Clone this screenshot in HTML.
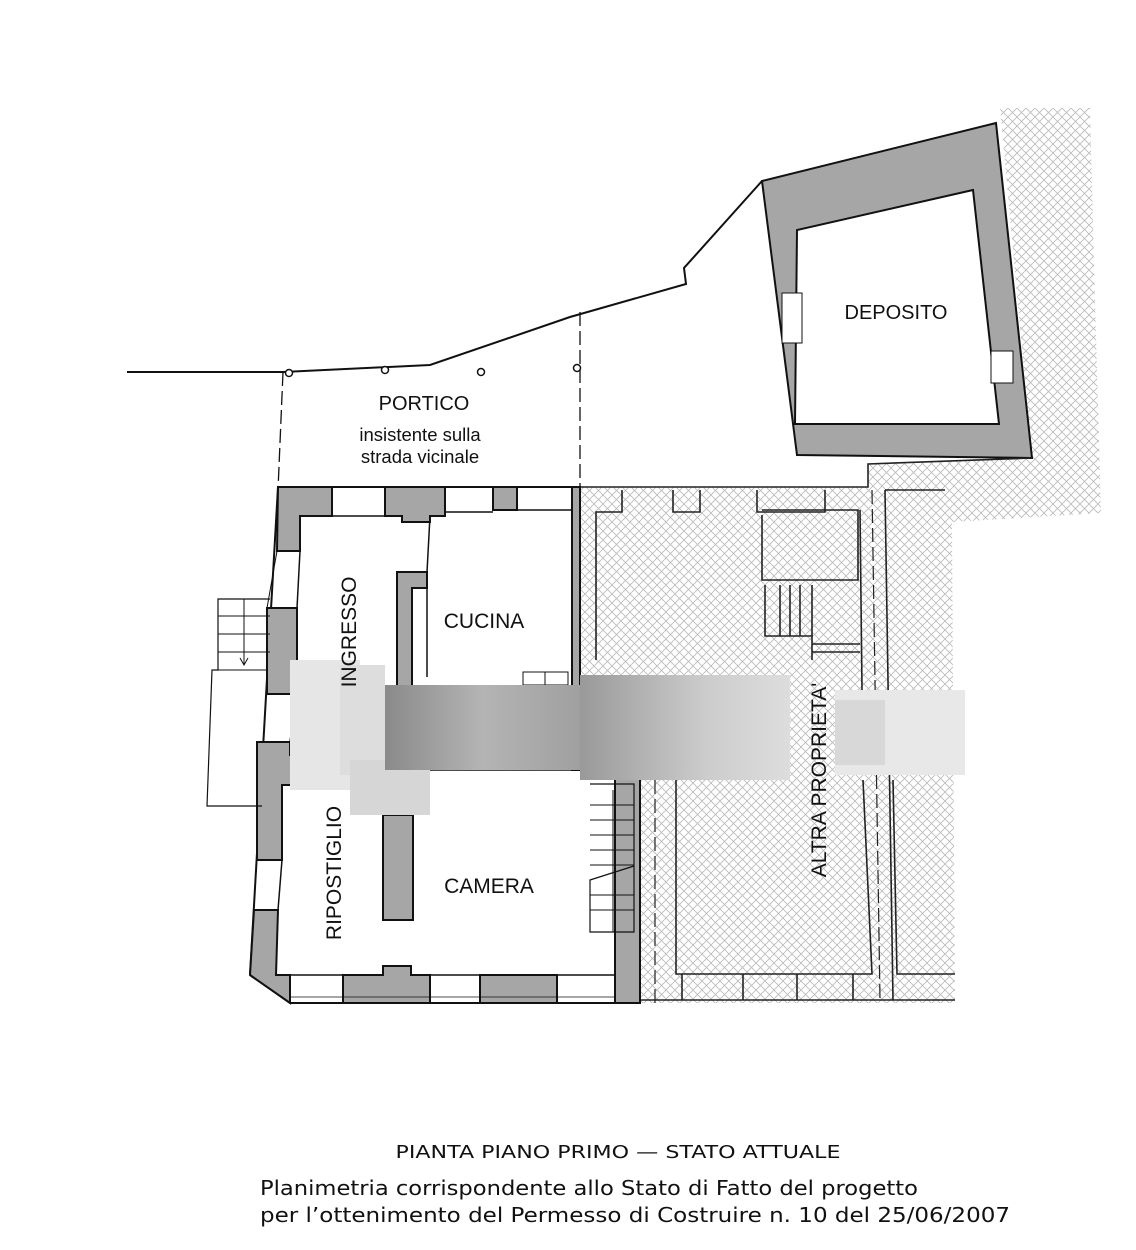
<!DOCTYPE html>
<html><head><meta charset="utf-8"><style>
html,body{margin:0;padding:0;background:#fff}
svg{display:block}
text{font-family:"Liberation Sans",Arial,sans-serif;fill:#111}
.c{font-family:"DejaVu Sans","Liberation Sans",sans-serif}
</style></head><body>
<svg width="1136" height="1250" viewBox="0 0 1136 1250" xmlns="http://www.w3.org/2000/svg">
<defs>
<pattern id="h" width="9" height="9" patternUnits="userSpaceOnUse">
<path d="M0 0L9 9M9 0L0 9" stroke="#b9b9b9" stroke-width="0.8"/>
</pattern>
<linearGradient id="bl" x1="0" x2="1"><stop offset="0" stop-color="#8a8a8a"/><stop offset="0.5" stop-color="#b4b4b4"/><stop offset="1" stop-color="#a0a0a0"/></linearGradient>
<linearGradient id="bl2" x1="0" x2="1"><stop offset="0" stop-color="#999"/><stop offset="0.6" stop-color="#ccc"/><stop offset="1" stop-color="#ddd"/></linearGradient>
</defs>
<rect width="1136" height="1250" fill="#fff"/>

<polygon points="1000,108 1090,108 1095,300 1101,513 952,522 955,1003 640,1003 640,770 580,770 580,487 868,487 868,464 1032,458" fill="url(#h)"/>

<polyline points="127,372 283,372 430,365 570,317 686,284 684,268 762,181" fill="none" stroke="#111" stroke-width="2"/>

<line x1="283" y1="372" x2="278" y2="490" stroke="#111" stroke-width="1.3" stroke-dasharray="14,5"/>
<line x1="580" y1="312" x2="580" y2="490" stroke="#111" stroke-width="1.3" stroke-dasharray="14,5"/>
<g fill="#fff" stroke="#111" stroke-width="1.5">
<circle cx="289" cy="373" r="3.5"/><circle cx="385" cy="370" r="3.5"/><circle cx="481" cy="372" r="3.5"/><circle cx="577" cy="368" r="3.5"/>
</g>
<text x="424" y="410" font-size="20" text-anchor="middle">PORTICO</text>
<text x="420" y="441" font-size="18.5" text-anchor="middle">insistente sulla</text>
<text x="420" y="463" font-size="18.5" text-anchor="middle">strada vicinale</text>

<path d="M762,181 L996,123 L1032,458 L797,455 Z M797,230 L795,424 L999,424 L973,190 Z" fill="#a6a6a6" fill-rule="evenodd" stroke="#111" stroke-width="2"/>
<rect x="782" y="293" width="20" height="50" fill="#fff" stroke="#111" stroke-width="1"/>
<rect x="991" y="351" width="22" height="32" fill="#fff" stroke="#111" stroke-width="1"/>
<text x="896" y="319" font-size="20" text-anchor="middle">DEPOSITO</text>

<g fill="none" stroke="#222" stroke-width="1.6">
<polyline points="580,487 868,487 868,464 1032,458"/>
<polyline points="596,660 596,512 622,512 622,490"/>
<polyline points="673,490 673,512 700,512 700,490"/>
<polyline points="757,490 757,512 825,512 825,490"/>
<polyline points="762,515 762,580 858,580 858,510 762,510"/>
<polyline points="765,585 765,636 812,636 812,660"/>
<line x1="780" y1="585" x2="780" y2="636"/><line x1="790" y1="585" x2="790" y2="636"/><line x1="800" y1="585" x2="800" y2="636"/><line x1="812" y1="585" x2="812" y2="636"/>
<line x1="812" y1="644" x2="860" y2="644"/><line x1="812" y1="652" x2="860" y2="652"/>
<polyline points="860,510 862,690"/>
<polyline points="885,490 945,490"/>
<polyline points="885,490 893,1000"/>
<polyline points="676,780 676,974 872,974 863,780"/>
<polyline points="893,780 897,974 955,974"/>
<line x1="640" y1="1000" x2="955" y2="1000"/>
<line x1="682" y1="974" x2="682" y2="1000"/><line x1="743" y1="974" x2="743" y2="1000"/><line x1="797" y1="974" x2="797" y2="1000"/><line x1="853" y1="974" x2="853" y2="1000"/>
</g>
<line x1="872" y1="490" x2="880" y2="1000" stroke="#222" stroke-width="1.2" stroke-dasharray="14,5"/>
<line x1="655" y1="780" x2="655" y2="1003" stroke="#222" stroke-width="1.2" stroke-dasharray="14,5"/>
<text transform="translate(826,780) rotate(-90)" font-size="21" text-anchor="middle">ALTRA PROPRIETA'</text>

<g stroke="#111" stroke-width="2">
<polyline points="278,487 580,487" fill="none"/>
<line x1="278" y1="487" x2="250" y2="975" />
<polyline points="250,975 290,1003 640,1003 640,770" fill="none"/>
<polyline points="300,516 300,551" fill="none" stroke-width="1.5"/>
<g fill="#a6a6a6">
<polygon points="278,487 332,487 332,516 300,516 300,551 277,551"/>
<polygon points="385,487 445,487 445,516 430,516 430,522 402,522 402,516 385,516"/>
<rect x="493" y="487" width="24" height="23"/>
<rect x="572" y="487" width="8" height="283"/>
<polygon points="397,572 427,572 427,588 412,588 412,760 397,760"/>
<rect x="267" y="608" width="30" height="86"/>
<polygon points="257,742 290,742 290,755 317,755 317,785 282,785 282,860 257,860"/>
<polygon points="254,910 278,910 276,975 290,975 290,1003 250,975"/>
<polygon points="343,975 383,975 383,966 411,966 411,975 430,975 430,1003 343,1003"/>
<rect x="480" y="975" width="77" height="28"/>
<rect x="615" y="770" width="25" height="233"/>
<rect x="383" y="815" width="30" height="105"/>
</g>
</g>
<g stroke="#111" stroke-width="1.5" fill="none">
<line x1="332" y1="516" x2="385" y2="516"/>
<line x1="445" y1="512" x2="493" y2="512"/>
<line x1="517" y1="510" x2="572" y2="510"/>
<line x1="430" y1="516" x2="427" y2="572"/>
<line x1="300" y1="551" x2="297" y2="608"/>
<line x1="297" y1="694" x2="290" y2="742"/>
<line x1="282" y1="860" x2="278" y2="910"/>
<line x1="276" y1="975" x2="343" y2="975"/>
<line x1="430" y1="975" x2="480" y2="975"/>
<line x1="557" y1="975" x2="615" y2="975"/>
<line x1="290" y1="997" x2="615" y2="997" stroke-width="0.8"/>
<line x1="277" y1="551" x2="267" y2="608" stroke-width="1"/>
<line x1="430" y1="770" x2="580" y2="770"/>
<line x1="427" y1="588" x2="427" y2="677"/>
<rect x="523" y="672" width="45" height="13" stroke-width="1"/>
<line x1="545" y1="672" x2="545" y2="685" stroke-width="1"/>
<polyline points="590,784 634,784 634,932 590,932 590,880 634,866" stroke-width="1.2"/>
<g stroke-width="1"><line x1="590" y1="805" x2="634" y2="805"/><line x1="590" y1="820" x2="634" y2="820"/><line x1="590" y1="835" x2="634" y2="835"/><line x1="590" y1="850" x2="634" y2="850"/><line x1="590" y1="865" x2="634" y2="865"/><line x1="590" y1="895" x2="634" y2="895"/><line x1="590" y1="910" x2="634" y2="910"/><line x1="613" y1="790" x2="613" y2="932"/></g>
<polyline points="270,599 218,599 218,670 212,670 207,806 262,806" stroke-width="1.2"/>
<g stroke-width="1"><line x1="218" y1="616" x2="270" y2="616"/><line x1="218" y1="634" x2="270" y2="634"/><line x1="218" y1="652" x2="270" y2="652"/><line x1="218" y1="670" x2="268" y2="670"/><line x1="244" y1="599" x2="244" y2="665"/><polyline points="240,658 244,665 248,658"/></g>
</g>

<rect x="290" y="660" width="70" height="130" fill="#e6e6e6"/>
<rect x="340" y="665" width="45" height="110" fill="#ddd"/>
<rect x="350" y="760" width="80" height="55" fill="#d6d6d6"/>
<rect x="385" y="685" width="195" height="85" fill="url(#bl)"/>
<rect x="580" y="675" width="210" height="105" fill="url(#bl2)"/>
<rect x="835" y="690" width="130" height="85" fill="#e8e8e8"/>
<rect x="835" y="700" width="50" height="65" fill="#d8d8d8"/>

<text transform="translate(356,632) rotate(-90)" font-size="21" text-anchor="middle">INGRESSO</text>
<text transform="translate(341,873) rotate(-90)" font-size="21" text-anchor="middle">RIPOSTIGLIO</text>
<text x="484" y="628" font-size="21" text-anchor="middle">CUCINA</text>
<text x="489" y="893" font-size="21" text-anchor="middle">CAMERA</text>

<text class="c" x="618" y="1158" font-size="18" text-anchor="middle" textLength="445" lengthAdjust="spacingAndGlyphs">PIANTA PIANO PRIMO — STATO ATTUALE</text>
<text class="c" x="260" y="1195" font-size="20" textLength="658" lengthAdjust="spacingAndGlyphs">Planimetria corrispondente allo Stato di Fatto del progetto</text>
<text class="c" x="260" y="1222" font-size="20" textLength="750" lengthAdjust="spacingAndGlyphs">per l’ottenimento del Permesso di Costruire n. 10 del 25/06/2007</text>
</svg>
</body></html>
